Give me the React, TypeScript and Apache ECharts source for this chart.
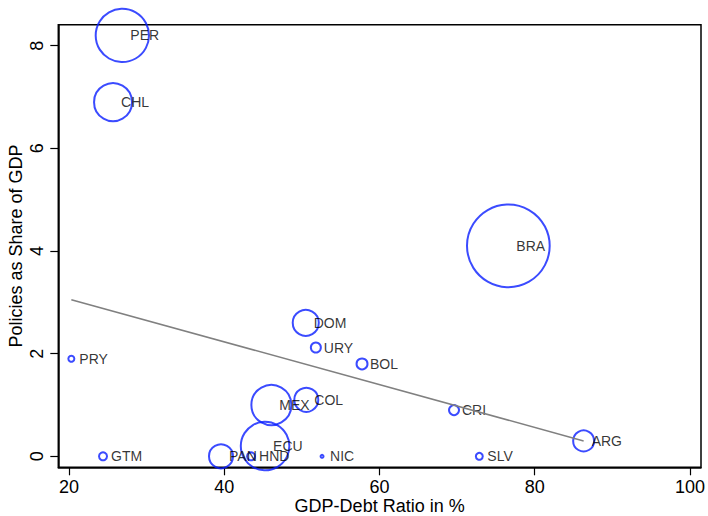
import React, { useEffect, useRef } from "react";
import * as echarts from "echarts";

const countries = ["PER", "CHL", "BRA", "DOM", "URY", "BOL", "MEX", "COL", "CRI", "ARG", "SLV", "NIC", "GTM", "PAN", "HND", "ECU", "PRY"];
const debtRatio = [26.87, 25.67, 76.6, 50.5, 51.8, 57.75, 46.07, 50.57, 69.6, 86.3, 72.86, 52.6, 24.38, 39.58, 43.45, 45.26, 20.3];
const policyShare = [8.2, 6.9, 4.1, 2.6, 2.12, 1.8, 1.0, 1.1, 0.9, 0.3, 0, 0, 0, 0, 0, 0.2, 1.9];
const weights = [71, 36, 171, 17, 2.5, 3, 40, 14.4, 2.5, 11, 1.2, 0.22, 1.6, 14.4, 1.6, 59, 0.9];
const fitX = [20.3, 86.3];
const fitY = [3.05, 0.3];
const xTicks = [20, 40, 60, 80, 100];
const yTicks = [0, 2, 4, 6, 8];

const FONT = "'Liberation Sans', Arial, Helvetica, sans-serif";

export default function App() {
  const ref = useRef<HTMLDivElement>(null);
  useEffect(() => {
    if (!ref.current) return;
    const chart = echarts.init(ref.current, null, { renderer: "svg" });
    const points = countries.map((c, i) => ({
      name: c,
      value: [debtRatio[i], policyShare[i], weights[i]],
    }));
    chart.setOption({
      animation: false,
      backgroundColor: "#ffffff",
      textStyle: { fontFamily: FONT },
      grid: {
        left: 58.3,
        right: 7,
        top: 24.7,
        bottom: 48.7,
        containLabel: false,
        outerBoundsMode: "none",
        show: true,
        borderColor: "#000",
        borderWidth: 1.5,
        backgroundColor: "transparent",
      },
      xAxis: {
        type: "value",
        min: 18.62,
        max: 101.42,
        name: "GDP-Debt Ratio in %",
        nameLocation: "middle",
        nameGap: 30,
        nameMoveOverlap: false,
        nameTextStyle: { fontSize: 18, color: "#000", fontFamily: FONT },
        axisLine: { show: true, onZero: false, lineStyle: { color: "#000", width: 1.5 } },
        axisTick: { show: true, inside: false, length: 8, customValues: xTicks, lineStyle: { color: "#000", width: 1.2 } },
        axisLabel: { show: true, customValues: xTicks, fontSize: 18, color: "#000", margin: 11, fontFamily: FONT },
        splitLine: { show: false },
      },
      yAxis: {
        type: "value",
        min: -0.214,
        max: 8.409,
        name: "Policies as Share of GDP",
        nameLocation: "middle",
        nameGap: 33,
        nameMoveOverlap: false,
        nameRotate: 90,
        nameTextStyle: { fontSize: 18, color: "#000", fontFamily: FONT },
        axisLine: { show: true, onZero: false, lineStyle: { color: "#000", width: 1.5 } },
        axisTick: { show: true, inside: false, length: 8, customValues: yTicks, lineStyle: { color: "#000", width: 1.2 } },
        axisLabel: { show: true, customValues: yTicks, fontSize: 18, color: "#000", margin: 12, rotate: 90, fontFamily: FONT },
        splitLine: { show: false },
      },
      series: [
        {
          type: "scatter",
          data: points,
          symbol: "circle",
          symbolSize: (v: number[]) => 2 * Math.sqrt(10 * v[2]),
          itemStyle: { color: "transparent", borderColor: "#0a1eff", borderWidth: 2 },
          label: {
            show: true,
            formatter: (p: any) => p.name,
            position: "inside",
            align: "left",
            verticalAlign: "middle",
            offset: [8, 0],
            fontSize: 14,
            color: "#000",
            fontFamily: FONT,
          },
          emphasis: { disabled: true },
          z: 2,
        },
        {
          type: "line",
          data: fitX.map((x, i) => [x, fitY[i]]),
          symbol: "none",
          lineStyle: { color: "#808080", width: 1.5 },
          emphasis: { disabled: true },
          z: 3,
        },
      ],
    });
    return () => chart.dispose();
  }, []);
  return (
    <div
      ref={ref}
      style={{ position: "fixed", left: 0, top: 0, width: 708, height: 516, background: "#fff" }}
    />
  );
}
